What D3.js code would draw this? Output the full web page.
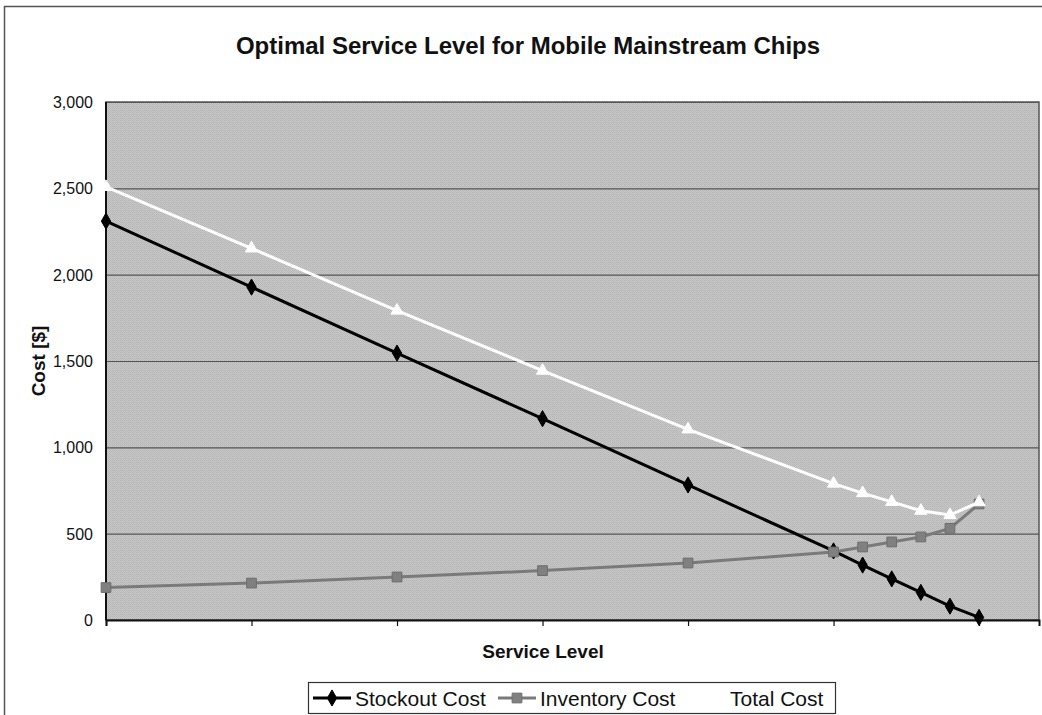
<!DOCTYPE html>
<html>
<head>
<meta charset="utf-8">
<script src="https://cdn.jsdelivr.net/npm/d3@7"></script>
<style>
    body { margin: 0; background: #fff; }
    text { font-family: "Liberation Sans", Arial, sans-serif; }
    .tick-label { font-size: 16px; fill: #111; }
    .axis-title { font-size: 19px; font-weight: bold; fill: #111; }
    .chart-title { font-size: 24px; font-weight: bold; fill: #111; }
    .legend-label { font-size: 21px; fill: #111; }
</style>
</head>
<body>
<div id="chart"></div>
<script>
// values
const serviceLevels = [0.40, 0.50, 0.60, 0.70, 0.80, 0.90, 0.92, 0.94, 0.96, 0.98, 1.00];
const stockoutCost = [2310, 1928, 1546, 1166, 782, 400, 318, 238, 160, 80, 15];
const inventoryCost = [188, 214, 249, 286, 330, 394, 423, 452, 481, 531, 672];
const totalCost = [2508, 2152, 1792, 1444, 1104, 790, 735, 684, 633, 608, 682];
const yTicks = [0, 500, 1000, 1500, 2000, 2500, 3000];
const xTicks = [0.4, 0.5, 0.6, 0.7, 0.8, 0.9, 1.0];
const seriesNames = ['Stockout Cost', 'Inventory Cost', 'Total Cost'];

class CostChart {
    constructor(_config) {
        this.config = {
            parentElement: _config.parentElement,
            containerWidth: _config.containerWidth || 1042,
            containerHeight: _config.containerHeight || 715,
            margin: _config.margin || { top: 102, right: 3, bottom: 95, left: 106 }
        };
        this.series = [
            { name: seriesNames[0], values: stockoutCost, stroke: '#000', fill: '#000', symbol: d3.symbolDiamond, size: 75 },
            { name: seriesNames[1], values: inventoryCost, stroke: '#7a7a7a', fill: '#808080', symbol: d3.symbolSquare, size: 95 },
            { name: seriesNames[2], values: totalCost, stroke: '#fff', fill: '#fff', symbol: d3.symbolTriangle, size: 65 }
        ];
        this.initVis();
    }

    initVis() {
        let vis = this;
        const m = vis.config.margin;
        vis.width = vis.config.containerWidth - m.left - m.right;
        vis.height = vis.config.containerHeight - m.top - m.bottom;

        vis.svg = d3.select(vis.config.parentElement)
            .append('svg')
            .attr('width', vis.config.containerWidth)
            .attr('height', vis.config.containerHeight);

        // dithered grey like the scanned excel plot area
        const pat = vis.svg.append('defs').append('pattern')
            .attr('id', 'dither')
            .attr('width', 2).attr('height', 2)
            .attr('patternUnits', 'userSpaceOnUse');
        pat.append('rect').attr('width', 2).attr('height', 2).attr('fill', '#c8c8c8');
        pat.append('rect').attr('width', 1).attr('height', 1).attr('fill', '#b4b4b4');
        pat.append('rect').attr('x', 1).attr('y', 1).attr('width', 1).attr('height', 1).attr('fill', '#bababa');

        // outer chart frame
        vis.svg.append('rect')
            .attr('x', 4.5).attr('y', 6.5)
            .attr('width', 1060).attr('height', 740)
            .attr('fill', 'none')
            .attr('stroke', '#555')
            .attr('stroke-width', 1.5);

        vis.chart = vis.svg.append('g')
            .attr('transform', `translate(${m.left},${m.top})`);

        // x in service level units, 0.1 per ~145px
        vis.xScale = d3.scaleLinear()
            .domain([0.4, 1.0412])
            .range([0, vis.width]);

        vis.yScale = d3.scaleLinear()
            .domain([0, 3000])
            .range([vis.height, 0]);

        vis.chart.append('rect')
            .attr('width', vis.width)
            .attr('height', vis.height)
            .attr('fill', 'url(#dither)')
            .attr('stroke', '#555')
            .attr('stroke-width', 1.5);

        vis.yAxis = d3.axisLeft(vis.yScale)
            .tickValues(yTicks)
            .tickSize(-vis.width)
            .tickPadding(13)
            .tickFormat(d3.format(','));

        vis.xAxis = d3.axisBottom(vis.xScale)
            .tickValues(xTicks)
            .tickSize(6)
            .tickFormat('');

        vis.yAxisG = vis.chart.append('g').attr('class', 'axis y-axis');
        vis.xAxisG = vis.chart.append('g')
            .attr('class', 'axis x-axis')
            .attr('transform', `translate(0,${vis.height})`);

        vis.svg.append('text')
            .attr('class', 'chart-title')
            .attr('x', 528)
            .attr('y', 54)
            .style('text-anchor', 'middle')
            .text('Optimal Service Level for Mobile Mainstream Chips');

        vis.svg.append('text')
            .attr('class', 'axis-title')
            .attr('transform', `translate(45,${m.top + vis.height / 2}) rotate(-90)`)
            .style('text-anchor', 'middle')
            .text('Cost [$]');

        vis.svg.append('text')
            .attr('class', 'axis-title')
            .attr('x', 543)
            .attr('y', 658)
            .style('text-anchor', 'middle')
            .text('Service Level');
    }

    renderVis() {
        let vis = this;

        vis.yAxisG.call(vis.yAxis)
            .call(g => g.select('.domain').remove())
            .call(g => g.selectAll('.tick line').attr('stroke', '#555').attr('stroke-width', 1.2))
            .call(g => g.selectAll('.tick text').attr('class', 'tick-label').attr('dy', '0.35em'));

        vis.xAxisG.call(vis.xAxis)
            .call(g => g.select('.domain').attr('stroke', '#111').attr('stroke-width', 2))
            .call(g => g.selectAll('.tick line').attr('stroke', '#111').attr('stroke-width', 1.2));

        // left axis line drawn over the grid
        vis.chart.append('line')
            .attr('y1', 0).attr('y2', vis.height)
            .attr('stroke', '#111').attr('stroke-width', 2);

        const line = d3.line()
            .x((d, i) => vis.xScale(serviceLevels[i]))
            .y(d => vis.yScale(d));

        const groups = vis.chart.selectAll('.series')
            .data(vis.series)
            .join('g')
            .attr('class', 'series');

        groups.append('path')
            .attr('d', d => line(d.values))
            .attr('fill', 'none')
            .attr('stroke', d => d.stroke)
            .attr('stroke-width', 3);

        groups.each(function(s) {
            d3.select(this).selectAll('.marker')
                .data(s.values)
                .join('path')
                .attr('class', 'marker')
                .attr('transform', (d, i) => `translate(${vis.xScale(serviceLevels[i])},${vis.yScale(d)})`)
                .attr('d', d3.symbol().type(s.symbol).size(s.size))
                .attr('fill', s.fill)
                .attr('stroke', s.name === 'Inventory Cost' ? '#6e6e6e' : s.fill)
                .attr('stroke-width', 1);
        });

        vis.renderLegend();
    }

    renderLegend() {
        let vis = this;
        const legend = vis.svg.append('g').attr('transform', 'translate(308,682)');

        legend.append('rect')
            .attr('x', 0.5).attr('y', 0.5)
            .attr('width', 527).attr('height', 31)
            .attr('fill', '#fff')
            .attr('stroke', '#333')
            .attr('stroke-width', 1.2);

        const itemX = [5, 190, 380];
        const items = legend.selectAll('.legend-item')
            .data(vis.series)
            .join('g')
            .attr('class', 'legend-item')
            .attr('transform', (d, i) => `translate(${itemX[i]},16)`);

        items.append('line')
            .attr('x1', 0).attr('x2', 38)
            .attr('stroke', d => d.stroke)
            .attr('stroke-width', 3);

        items.append('path')
            .attr('transform', 'translate(19,0)')
            .attr('d', d => d3.symbol().type(d.symbol).size(d.size)())
            .attr('fill', d => d.fill)
            .attr('stroke', d => d.name === 'Inventory Cost' ? '#6e6e6e' : d.fill);

        items.append('text')
            .attr('class', 'legend-label')
            .attr('x', 42)
            .attr('dy', '0.36em')
            .text(d => d.name);
    }
}

const chart = new CostChart({ parentElement: '#chart' });
chart.renderVis();
</script>
</body>
</html>
